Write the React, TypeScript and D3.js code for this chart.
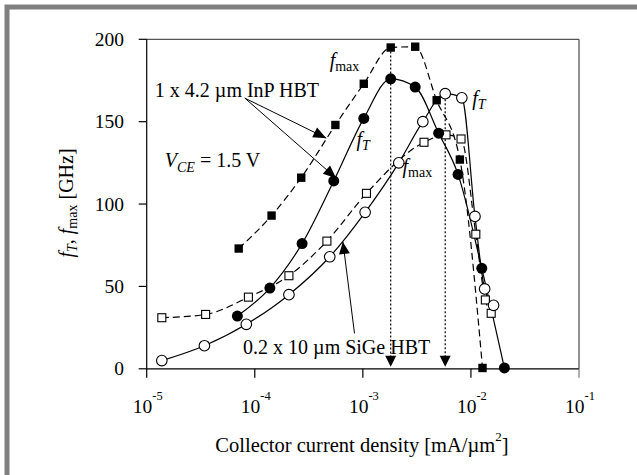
import React from 'react';
import * as d3 from 'd3';

// InP HBT, fmax (filled squares, dashed)
const inpFmaxX = [7.1e-5, 1.43e-4, 2.69e-4, 5.57e-4, 1.02e-3, 1.81e-3, 3.05e-3, 4.82e-3, 7.9e-3, 1.28e-2];
const inpFmaxY = [73, 93, 116, 148, 173, 195, 195.5, 163, 127, 0.5];

// InP HBT, fT (filled circles, solid)
const inpFtX = [6.9e-5, 1.38e-4, 2.74e-4, 5.38e-4, 1.02e-3, 1.81e-3, 3.05e-3, 5.03e-3, 7.6e-3, 1.26e-2, 2.04e-2];
const inpFtY = [32, 49, 76, 114, 152, 176, 171, 143, 118, 61, 0.5];

// SiGe HBT, fT (open circles, solid)
const sigeFtX = [1.38e-5, 3.42e-5, 8.35e-5, 2.07e-4, 4.94e-4, 1.05e-3, 2.15e-3, 3.59e-3, 5.78e-3, 8.24e-3, 1.09e-2, 1.34e-2, 1.62e-2];
const sigeFtY = [5, 14, 27, 45, 68, 95, 125, 150, 167, 164.5, 92.5, 48.5, 38.5];

// SiGe HBT, fmax (open squares, dashed)
const sigeFmaxX = [1.38e-5, 3.51e-5, 8.73e-5, 2.07e-4, 4.65e-4, 1.08e-3, 3.68e-3, 5.88e-3, 8.1e-3, 1.11e-2, 1.36e-2, 1.54e-2];
const sigeFmaxY = [31, 33, 43.5, 56.5, 77.5, 106.5, 137.5, 142, 139.5, 81.7, 41.8, 33.7];

// peak markers (dotted drop lines)
const peakX = [1.81e-3, 5.78e-3];
const peakY = [195, 166];

const xTicks = [1e-5, 1e-4, 1e-3, 1e-2, 1e-1];
const xTickExp = ['-5', '-4', '-3', '-2', '-1'];
const yTicks = [0, 50, 100, 150, 200];

const font = "'Liberation Serif', 'Times New Roman', serif";

// filled arrow head, tip at (tx,ty), pointing away from (fx,fy)
function head(tx: number, ty: number, fx: number, fy: number, len = 13, w = 5.5) {
  const dx = tx - fx, dy = ty - fy;
  const d = Math.hypot(dx, dy);
  const ux = dx / d, uy = dy / d;
  const bx = tx - ux * len, by = ty - uy * len;
  return `${tx},${ty} ${bx - uy * w},${by + ux * w} ${bx + uy * w},${by - ux * w}`;
}

export default function App() {
  const x = d3.scaleLog().domain([1e-5, 1e-1]).range([146.7, 579]);
  const y = d3.scaleLinear().domain([0, 200]).range([368.8, 39.3]);

  const path = (xs: number[], ys: number[]) =>
    d3.line<number>()
      .x((_, i) => x(xs[i]))
      .y((_, i) => y(ys[i]))
      .curve(d3.curveMonotoneX)(xs) || '';

  const inpArrowFrom: [number, number] = [x(8.09e-5), y(164.3)];
  const inpArrowTips: [number, number][] = [[x(4.59e-4), y(140)], [x(5.67e-4), y(115.7)]];
  const sigeArrowFrom: [number, number] = [x(8.37e-4), y(21.5)];
  const sigeArrowTip: [number, number] = [x(6.54e-4), y(77)];

  return (
    <svg width={637} height={475} style={{ position: 'absolute', left: 0, top: 0, background: '#fff' }}
      fontFamily={font}>
      {/* outer frame */}
      <rect x={7} y={7} width={640} height={480} fill="none" stroke="#808080" strokeWidth={5} />

      {/* plot box */}
      <line x1={x(1e-5)} x2={x(1e-1)} y1={y(200)} y2={y(200)} stroke="#555" strokeWidth={1.3} />
      <line x1={x(1e-1)} x2={x(1e-1)} y1={y(200)} y2={y(0)} stroke="#555" strokeWidth={1.3} />
      <line x1={x(1e-5)} x2={x(1e-5)} y1={y(200)} y2={y(0)} stroke="#000" strokeWidth={1.2} />
      <line x1={x(1e-5)} x2={x(1e-1)} y1={y(0)} y2={y(0)} stroke="#000" strokeWidth={1.2} />

      {/* y ticks */}
      {yTicks.map(t => (
        <g key={t}>
          <line x1={x(1e-5) - 8} x2={x(1e-5)} y1={y(t)} y2={y(t)} stroke="#000" strokeWidth={1.2} />
          <text x={124} y={y(t) + 6.5} textAnchor="end" fontSize={19.5}>{t}</text>
        </g>
      ))}

      {/* x ticks */}
      {xTicks.map((t, i) => (
        <g key={t}>
          <line x1={x(t)} x2={x(t)} y1={y(0)} y2={y(0) + 9} stroke={i === 4 ? '#777' : '#000'} strokeWidth={1.2} />
          <text x={x(t) + 1} y={413} textAnchor="middle" fontSize={19.5}>
            10<tspan fontSize={12.5} dy={-13}>{xTickExp[i]}</tspan>
          </text>
        </g>
      ))}

      {/* axis titles */}
      <text x={362} y={452} textAnchor="middle" fontSize={20.5}>
        Collector current density [mA/µm<tspan fontSize={13} dy={-11}>2</tspan><tspan dy={11}>]</tspan>
      </text>
      <text transform="translate(73,203) rotate(-90)" textAnchor="middle" fontSize={20}>
        <tspan fontStyle="italic">f</tspan>
        <tspan fontStyle="italic" fontSize={14} dy={4}>T</tspan>
        <tspan dy={-4}>, </tspan>
        <tspan fontStyle="italic">f</tspan>
        <tspan fontSize={14} dy={4}>max</tspan>
        <tspan dy={-4}> [GHz]</tspan>
      </text>

      {/* dotted drop lines */}
      {peakX.map((p, i) => (
        <g key={p}>
          <line x1={x(p)} x2={x(p)} y1={y(peakY[i])} y2={y(0) - 10} stroke="#000" strokeWidth={1.2} strokeDasharray="2,2" />
          <polygon points={head(x(p), y(0) - 2, x(p), y(100), 11, 5.5)} fill="#000" />
        </g>
      ))}

      {/* curves */}
      <path d={path(sigeFtX, sigeFtY)} fill="none" stroke="#000" strokeWidth={1.2} />
      <path d={path(sigeFmaxX, sigeFmaxY)} fill="none" stroke="#000" strokeWidth={1.2} strokeDasharray="7,4" />
      <path d={path(inpFtX, inpFtY)} fill="none" stroke="#000" strokeWidth={1.2} />
      <path d={path(inpFmaxX, inpFmaxY)} fill="none" stroke="#000" strokeWidth={1.2} strokeDasharray="7,4" />

      {/* markers */}
      {sigeFmaxX.map((v, i) => (
        <rect key={'sf' + i} x={x(v) - 4} y={y(sigeFmaxY[i]) - 4} width={8} height={8} fill="#fff" stroke="#000" strokeWidth={1.1} />
      ))}
      {sigeFtX.map((v, i) => (
        <circle key={'st' + i} cx={x(v)} cy={y(sigeFtY[i])} r={5.3} fill="#fff" stroke="#000" strokeWidth={1.1} />
      ))}
      {inpFtX.map((v, i) => (
        <circle key={'it' + i} cx={x(v)} cy={y(inpFtY[i])} r={5.5} fill="#000" />
      ))}
      {inpFmaxX.map((v, i) => (
        <rect key={'im' + i} x={x(v) - 4.2} y={y(inpFmaxY[i]) - 4.2} width={8.4} height={8.4} fill="#000" />
      ))}

      {/* annotations */}
      <text x={x(1.19e-5)} y={y(164.9)} fontSize={20}>1 x 4.2 µm InP HBT</text>
      {inpArrowTips.map((t, i) => (
        <g key={i}>
          <line x1={inpArrowFrom[0]} y1={inpArrowFrom[1]} x2={t[0]} y2={t[1]} stroke="#000" strokeWidth={1} />
          <polygon points={head(t[0], t[1], inpArrowFrom[0], inpArrowFrom[1])} fill="#000" />
        </g>
      ))}
      <text x={x(1.47e-5)} y={y(122.7)} fontSize={20}>
        <tspan fontStyle="italic">V</tspan>
        <tspan fontStyle="italic" fontSize={14} dy={5}>CE</tspan>
        <tspan dy={-5}> = 1.5 V</tspan>
      </text>

      <text x={x(4.93e-4)} y={y(183)} fontSize={20}>
        <tspan fontStyle="italic">f</tspan>
        <tspan fontSize={14} dy={4}>max</tspan>
      </text>
      <text x={x(8.74e-4)} y={y(135)} fontSize={20}>
        <tspan fontStyle="italic">f</tspan>
        <tspan fontStyle="italic" fontSize={14} dy={4}>T</tspan>
      </text>
      <text x={x(2.33e-3)} y={y(119)} fontSize={20}>
        <tspan fontStyle="italic">f</tspan>
        <tspan fontSize={14} dy={4}>max</tspan>
      </text>
      <text x={x(1.03e-2)} y={y(160)} fontSize={20}>
        <tspan fontStyle="italic">f</tspan>
        <tspan fontStyle="italic" fontSize={14} dy={4}>T</tspan>
      </text>

      <line x1={sigeArrowFrom[0]} y1={sigeArrowFrom[1]} x2={sigeArrowTip[0]} y2={sigeArrowTip[1]} stroke="#000" strokeWidth={1} />
      <polygon points={head(sigeArrowTip[0], sigeArrowTip[1], sigeArrowFrom[0], sigeArrowFrom[1], 12, 5.5)} fill="#000" />
      <text x={x(7.8e-5)} y={y(9)} fontSize={20}>0.2 x 10 µm SiGe HBT</text>
    </svg>
  );
}
